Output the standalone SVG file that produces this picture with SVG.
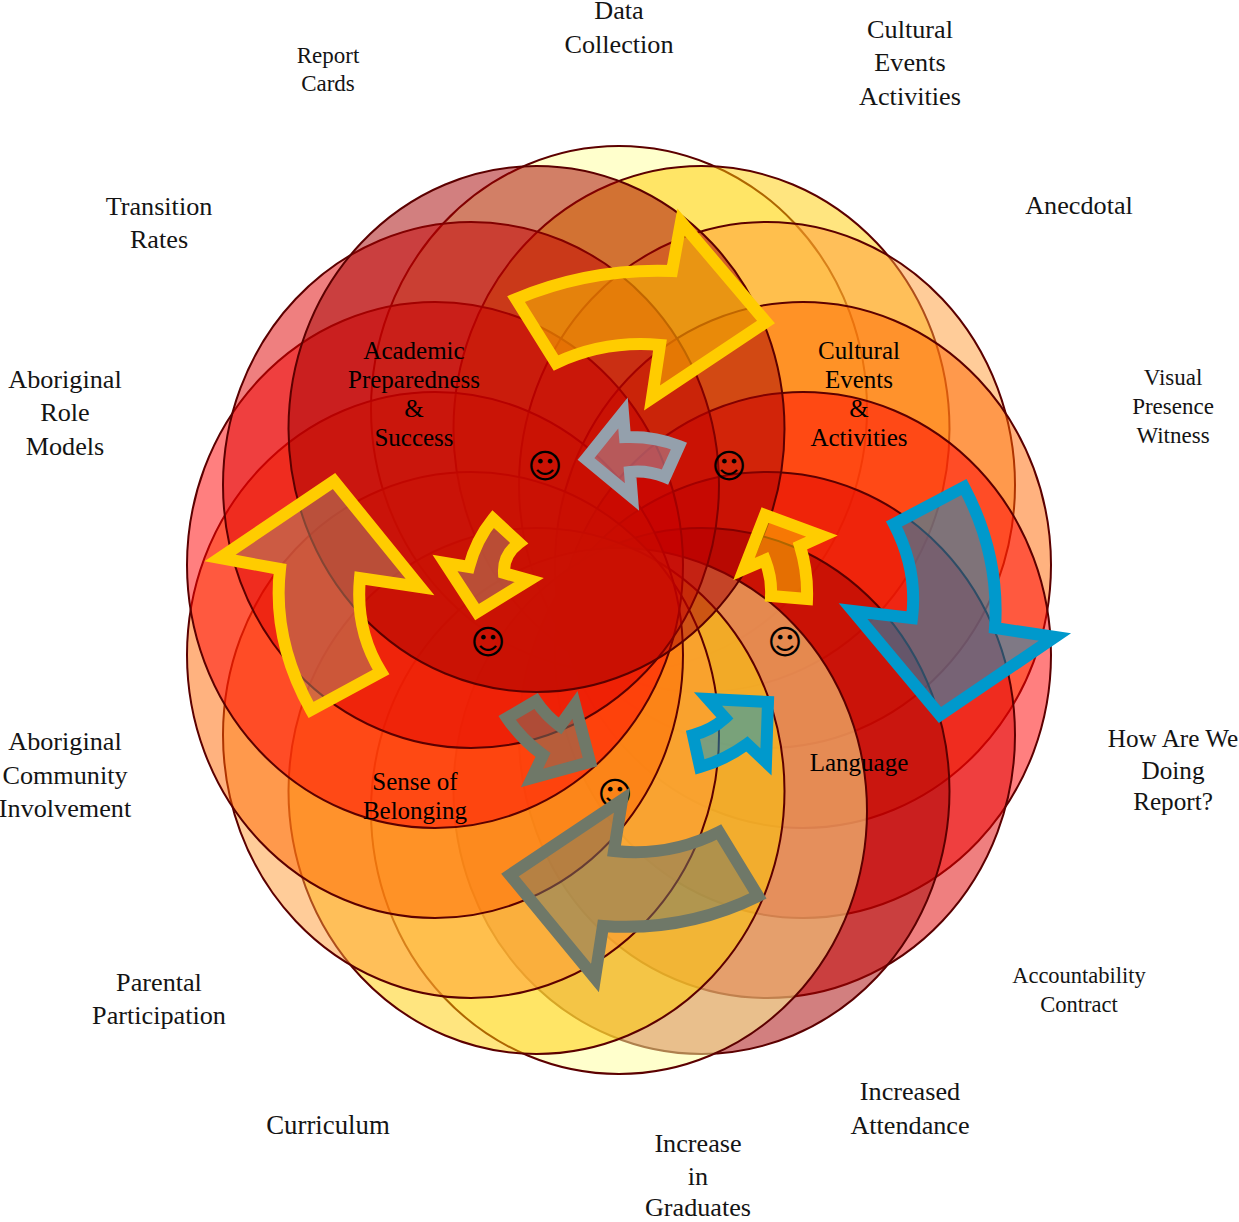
<svg xmlns="http://www.w3.org/2000/svg" width="1239" height="1222" viewBox="0 0 1239 1222">
<style>
ellipse{stroke:#5c0000;stroke-width:2;fill-opacity:.5}
text{font-family:"Liberation Serif","Times New Roman",serif;text-anchor:middle;fill:#141414}
.o{font-size:26.2px}
.s{font-size:23px}
.i{font-size:25px;fill:#000}
.f{font-family:"DejaVu Sans",sans-serif;font-size:34px;fill:#000}
.a{stroke-width:12;stroke-linejoin:miter;stroke-miterlimit:12;fill-opacity:.5}
.gold{stroke:#ffcc00;fill:#ffcc00}
.tan{stroke:#ffcc00;fill:#aa8a68}
.blue{stroke:#0099cc;fill:#0099cc}
.grey{stroke:#6f7868;fill:#6f7868}
.silver{stroke:#94a0ac;fill:#a49fb0}
</style>
<g id="node-data-collection"><ellipse cx="619" cy="409" rx="248" ry="263" fill="#ffff99"/><text class="o" x="619" y="19">Data</text><text class="o" x="619" y="53">Collection</text></g>
<g id="node-cultural-events"><ellipse cx="701.500" cy="429" rx="248" ry="263" fill="#ffcc00"/><text class="o" x="910" y="38">Cultural</text><text class="o" x="910" y="71">Events</text><text class="o" x="910" y="105">Activities</text></g>
<g id="node-anecdotal"><ellipse cx="767" cy="485" rx="248" ry="263" fill="#ff9933"/><text class="o" x="1079" y="214">Anecdotal</text></g>
<g id="node-visual"><ellipse cx="803" cy="565" rx="248" ry="263" fill="#ff6600"/><text class="s" x="1173" y="385">Visual</text><text class="s" x="1173" y="414">Presence</text><text class="s" x="1173" y="443">Witness</text></g>
<g id="node-report"><ellipse cx="803" cy="655" rx="248" ry="263" fill="#ff0000"/><text class="o" style="font-size:25.2px" x="1173" y="747">How Are We</text><text class="o" style="font-size:25.2px" x="1173" y="779">Doing</text><text class="o" style="font-size:25.2px" x="1173" y="810">Report?</text></g>
<g id="node-accountability"><ellipse cx="767" cy="735" rx="248" ry="263" fill="#e00000"/><text class="s" style="font-size:22.5px" x="1079" y="983">Accountability</text><text class="s" style="font-size:22.5px" x="1079" y="1012">Contract</text></g>
<g id="node-attendance"><ellipse cx="701.500" cy="791" rx="248" ry="263" fill="#a50000"/><text class="o" x="910" y="1100">Increased</text><text class="o" x="910" y="1134">Attendance</text></g>
<g id="node-graduates"><ellipse cx="619" cy="811" rx="248" ry="263" fill="#ffff99"/><text class="o" x="698" y="1152">Increase</text><text class="o" x="698" y="1185">in</text><text class="o" x="698" y="1216">Graduates</text></g>
<g id="node-curriculum"><ellipse cx="536.500" cy="791" rx="248" ry="263" fill="#ffcc00"/><text class="o" style="font-size:26.8px" x="328" y="1134">Curriculum</text></g>
<g id="node-parental"><ellipse cx="471" cy="735" rx="248" ry="263" fill="#ff9933"/><text class="o" x="159" y="991">Parental</text><text class="o" x="159" y="1024">Participation</text></g>
<g id="node-community"><ellipse cx="435" cy="655" rx="248" ry="263" fill="#ff6600"/><text class="o" x="65" y="750">Aboriginal</text><text class="o" x="65" y="784">Community</text><text class="o" x="65" y="817">Involvement</text></g>
<g id="node-role-models"><ellipse cx="435" cy="565" rx="248" ry="263" fill="#ff0000"/><text class="o" x="65" y="388">Aboriginal</text><text class="o" x="65" y="421">Role</text><text class="o" x="65" y="455">Models</text></g>
<g id="node-transition"><ellipse cx="471" cy="485" rx="248" ry="263" fill="#e00000"/><text class="o" x="159" y="215">Transition</text><text class="o" x="159" y="248">Rates</text></g>
<g id="node-report-cards"><ellipse cx="536.500" cy="429" rx="248" ry="263" fill="#a50000"/><text class="s" x="328" y="63">Report</text><text class="s" x="328" y="91">Cards</text></g>
<g id="labels">
<text class="i" x="414" y="359">Academic</text><text class="i" x="414" y="388">Preparedness</text><text class="i" x="414" y="417">&amp;</text><text class="i" x="414" y="446">Success</text>
<text class="i" x="859" y="359">Cultural</text><text class="i" x="859" y="388">Events</text><text class="i" x="859" y="417">&amp;</text><text class="i" x="859" y="446">Activities</text>
<text class="i" x="415" y="790">Sense of</text><text class="i" x="415" y="819">Belonging</text>
<text class="i" x="859" y="771">Language</text>
</g>
<g id="smileys">
<text class="f" x="545" y="478">☺</text><text class="f" x="729" y="478">☺</text><text class="f" x="488" y="654">☺</text><text class="f" x="785" y="654">☺</text><text class="f" x="615" y="806">☺</text>
</g>
<g id="connectors">
<path class="a gold" d="M516,299 Q590,268 672,271 L681,222 L766,322 L652,398 L660,345 Q605,340 556,363 Z"/>
<path class="a tan" d="M220,558 L334,481 L420,587 L360,578 Q355,630 381,672 L311,710 Q272,640 280,569 Z"/>
<path class="a tan" d="M493,519 L519,543 Q503,555 504,573 L529,580 L477,612 L445,563 L469,567 Q476,540 493,519 Z"/>
<path class="a silver" d="M586,459 L623,413 L625,437 Q655,436 679,446 L665,477 Q647,470 630,472 L632,497 Z"/>
<path class="a gold" d="M744,569 L765,515 L822,536 L800,546 Q808,572 807,599 L771,596 Q772,578 765,560 Z"/>
<path class="a blue" d="M894,524 L964,487 Q1000,555 995,628 L1055,637 L940,715 L853,611 L912,618 Q918,570 894,524 Z"/>
<path class="a blue" d="M768,702 L708,699 L725,718 Q712,730 693,735 L700,767 Q725,760 747,744 L766,762 Z"/>
<path class="a grey" d="M536,701 L507,718 Q522,740 543,755 L532,778 L590,762 L575,705 L560,726 Q546,716 536,701 Z"/>
<path class="a grey" d="M510,875 L622,800 L614,851 Q670,857 719,832 L758,896 Q685,932 603,926 L595,978 Z"/>
</g>
</svg>
